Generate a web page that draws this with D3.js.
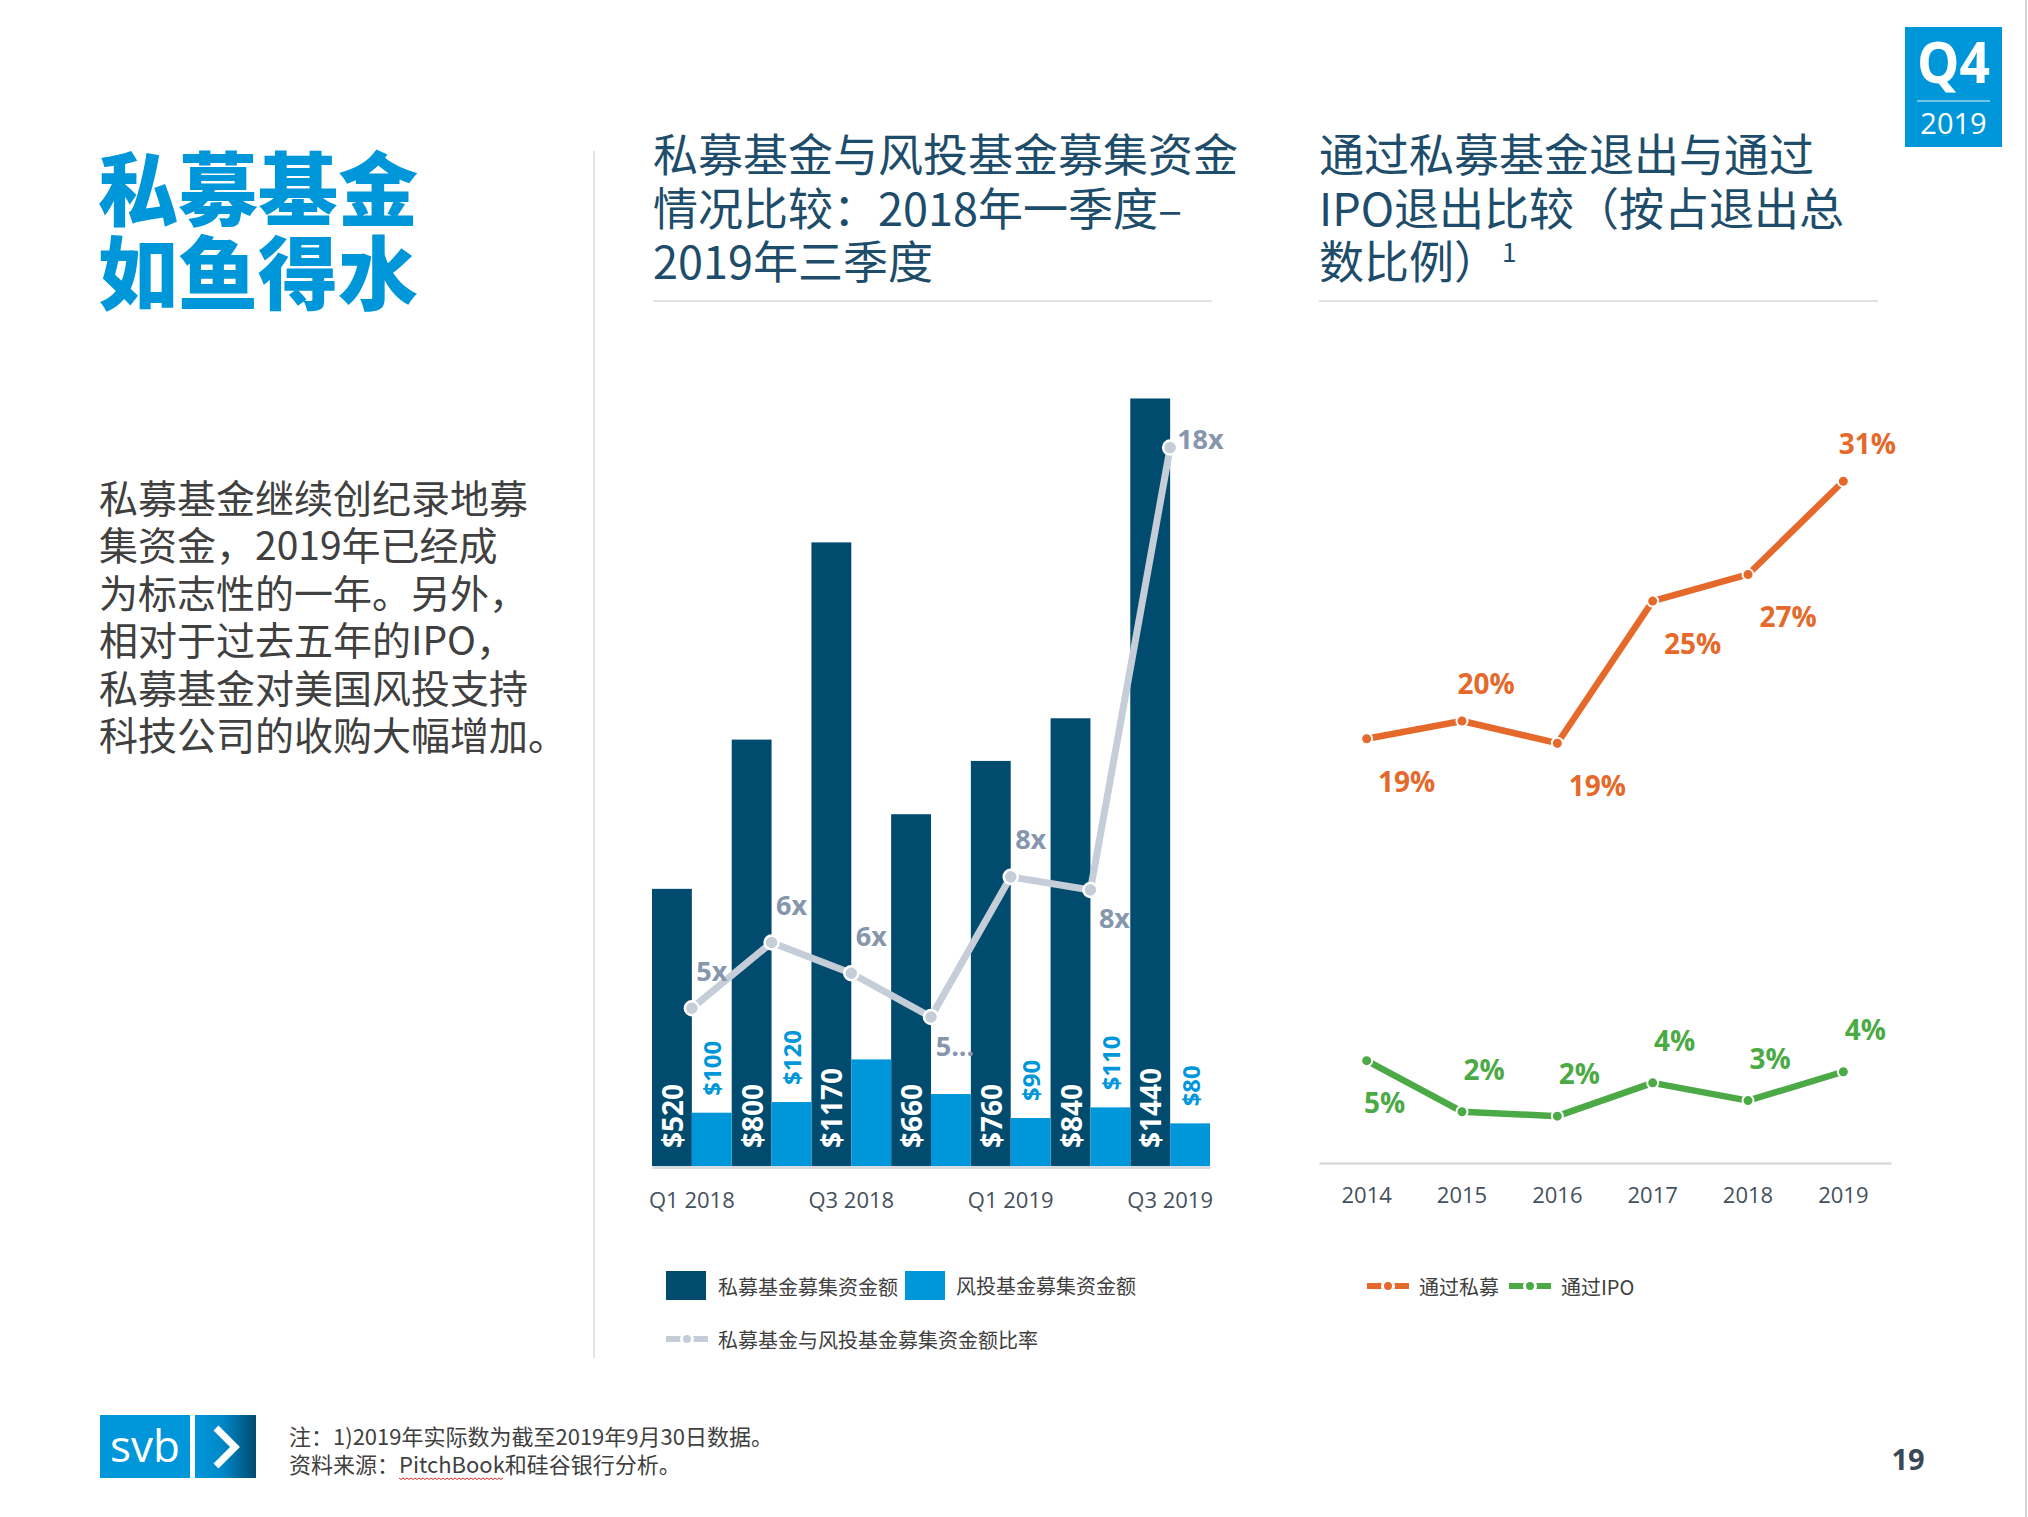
<!DOCTYPE html>
<html>
<head>
<meta charset="utf-8">
<script src="https://cdn.jsdelivr.net/npm/d3@7"></script>
<style>
  body { margin: 0; background: #fff; }
  svg { display: block; }
  text { font-family: "Noto Sans CJK SC", "Open Sans", sans-serif; }
  .num { font-family: "Open Sans", "Noto Sans CJK SC", sans-serif; }
</style>
</head>
<body>
<svg width="2028" height="1517"></svg>
<script>
// bar chart data (quarters)
const quarters = ["Q1 2018", "Q2 2018", "Q3 2018", "Q4 2018", "Q1 2019", "Q2 2019", "Q3 2019"];
const quarterTicks = ["Q1 2018", "Q3 2018", "Q1 2019", "Q3 2019"];
const peFunds = [520, 800, 1170, 660, 760, 840, 1440];
const vcFunds = [100, 120, 200, 135, 90, 110, 80];
const vcLabels = ["$100", "$120", null, null, "$90", "$110", "$80"];
const ratio = [5.2, 6.7, 6.0, 5.0, 8.2, 7.9, 18];
const ratioLabels = ["5x", "6x", "6x", "5...", "8x", "8x", "18x"];
const ratioPlace = ["above", "above", "above", "below", "above", "below", "right"];

// line chart data (years)
const years = ["2014", "2015", "2016", "2017", "2018", "2019"];
const peExit = [19.2, 20.0, 19.0, 25.4, 26.6, 30.8];
const ipoExit = [4.7, 2.4, 2.2, 3.7, 2.9, 4.2];
const peExitPlace = ["below", "above", "below", "below", "below", "above"];
const ipoExitPlace = ["below", "above", "above", "above", "above", "above"];

const bodyLines = ["私募基金继续创纪录地募", "集资金，2019年已经成", "为标志性的一年。另外，",
                   "相对于过去五年的IPO，", "私募基金对美国风投支持", "科技公司的收购大幅增加。"];

const peColor = "#004b6e", vcColor = "#0097da", ratioColor = "#c5cdd8", ratioText = "#8596ad";
const orange = "#e5692a", green = "#4caa46", titleColor = "#1e4d6b", gray = "#404040";

let svg = d3.select("svg");

// ---- left side text ----
svg.append("text").attr("x", 98).attr("y", 219)
    .attr("fill", vcColor).style("font-size", "80px").style("font-weight", 900)
    .text("私募基金");
svg.append("text").attr("x", 98).attr("y", 303)
    .attr("fill", vcColor).style("font-size", "80px").style("font-weight", 900)
    .text("如鱼得水");

svg.append("g").selectAll("text").data(bodyLines).enter().append("text")
    .attr("x", 99)
    .attr("y", (d, i) => 513 + i * 47.4)
    .attr("fill", gray)
    .style("font-size", "39px")
    .text(d => d);

// separators
svg.append("line").attr("x1", 594).attr("x2", 594).attr("y1", 151).attr("y2", 1358)
    .attr("stroke", "#d9d9d9").attr("stroke-width", 1.5);
svg.append("line").attr("x1", 2026).attr("x2", 2026).attr("y1", 0).attr("y2", 1517)
    .attr("stroke", "#d6d6d6").attr("stroke-width", 2);

// ---- chart titles ----
function title(x, lines) {
    lines.forEach((t, i) => {
        svg.append("text").attr("x", x).attr("y", 172 + i * 53.5)
            .attr("fill", titleColor).style("font-size", "45px").text(t);
    });
}
title(653, ["私募基金与风投基金募集资金", "情况比较：2018年一季度–", "2019年三季度"]);
title(1319, ["通过私募基金退出与通过", "IPO退出比较（按占退出总", "数比例）"]);
svg.append("text").attr("x", 1502).attr("y", 262).attr("fill", titleColor)
    .style("font-size", "26px").text("1");
svg.append("line").attr("x1", 653).attr("x2", 1212).attr("y1", 301).attr("y2", 301)
    .attr("stroke", "#d9d9d9").attr("stroke-width", 1.5);
svg.append("line").attr("x1", 1319).attr("x2", 1878).attr("y1", 301).attr("y2", 301)
    .attr("stroke", "#d9d9d9").attr("stroke-width", 1.5);

// ---- bar chart ----
let xBand = d3.scaleBand().domain(quarters).range([652, 1210]).padding(0);
let xSub = d3.scaleBand().domain(["pe", "vc"]).range([0, xBand.bandwidth()]).padding(0);
let yBar = d3.scaleLinear().domain([0, 1500]).range([1166, 366.5]);
let yRatio = d3.scaleLinear().domain([0, 20]).range([1236, 360]);
const cx = q => xBand(q) + xBand.bandwidth() / 2;

let bars = svg.append("g");
bars.selectAll(".pe").data(quarters).enter().append("rect")
    .attr("x", q => xBand(q) + xSub("pe"))
    .attr("width", xSub.bandwidth())
    .attr("y", (q, i) => yBar(peFunds[i]))
    .attr("height", (q, i) => yBar(0) - yBar(peFunds[i]))
    .attr("fill", peColor);
bars.selectAll(".vc").data(quarters).enter().append("rect")
    .attr("x", q => xBand(q) + xSub("vc"))
    .attr("width", xSub.bandwidth())
    .attr("y", (q, i) => yBar(vcFunds[i]))
    .attr("height", (q, i) => yBar(0) - yBar(vcFunds[i]))
    .attr("fill", vcColor);

// x axis
let xAxis = d3.axisBottom(xBand).tickValues(quarterTicks).tickSize(0).tickSizeOuter(0).tickPadding(25);
let gx = svg.append("g").attr("transform", "translate(0,1167)").call(xAxis);
gx.select(".domain").attr("stroke", "#d3dbe3").attr("stroke-width", 3);
gx.selectAll("text").attr("class", "num").attr("fill", "#44505c").style("font-size", "22px");

// bar labels
bars.selectAll(".pel").data(quarters).enter().append("text")
    .attr("class", "num")
    .attr("transform", q => "translate(" + (xBand(q) + xSub("pe") + xSub.bandwidth() / 2) + "," + (yBar(0) - 18) + ") rotate(-90)")
    .attr("dominant-baseline", "central")
    .attr("fill", "#fff").style("font-size", "28px").style("font-weight", 700)
    .text((q, i) => "$" + peFunds[i]);
bars.selectAll(".vcl").data(quarters.filter((q, i) => vcLabels[i])).enter().append("text")
    .attr("class", "num")
    .attr("transform", q => {
        let i = quarters.indexOf(q);
        return "translate(" + (xBand(q) + xSub("vc") + xSub.bandwidth() / 2) + "," + (yBar(vcFunds[i]) - 17) + ") rotate(-90)";
    })
    .attr("dominant-baseline", "central")
    .attr("fill", vcColor).style("font-size", "24px").style("font-weight", 700)
    .text(q => vcLabels[quarters.indexOf(q)]);

// ratio line
let ratioLine = d3.line().x((d, i) => cx(quarters[i])).y(d => yRatio(d));
svg.append("path").datum(ratio).attr("d", ratioLine)
    .attr("fill", "none").attr("stroke", ratioColor).attr("stroke-width", 7)
    .attr("stroke-linejoin", "round");
svg.append("g").selectAll("circle").data(ratio).enter().append("circle")
    .attr("cx", (d, i) => cx(quarters[i])).attr("cy", d => yRatio(d)).attr("r", 7)
    .attr("fill", ratioColor).attr("stroke", "#fff").attr("stroke-width", 2.5);
const ratioOff = { above: [20, -38], below: [24, 28], right: [7, -9] };
svg.append("g").selectAll("text").data(ratio).enter().append("text")
    .attr("class", "num")
    .attr("x", (d, i) => cx(quarters[i]) + ratioOff[ratioPlace[i]][0])
    .attr("y", (d, i) => yRatio(d) + ratioOff[ratioPlace[i]][1])
    .attr("text-anchor", (d, i) => ratioPlace[i] == "right" ? "start" : "middle")
    .attr("dominant-baseline", "central")
    .attr("fill", ratioText).style("font-size", "27px").style("font-weight", 700)
    .text((d, i) => ratioLabels[i]);

// bar legend
svg.append("rect").attr("x", 666).attr("y", 1271).attr("width", 40).attr("height", 29).attr("fill", peColor);
svg.append("text").attr("x", 718).attr("y", 1286).attr("dominant-baseline", "central")
    .attr("fill", gray).style("font-size", "20px").text("私募基金募集资金额");
svg.append("rect").attr("x", 905).attr("y", 1271).attr("width", 40).attr("height", 29).attr("fill", vcColor);
svg.append("text").attr("x", 956).attr("y", 1285).attr("dominant-baseline", "central")
    .attr("fill", gray).style("font-size", "20px").text("风投基金募集资金额");

function lineKey(x, y, color, label) {
    svg.append("line").attr("x1", x).attr("x2", x + 42).attr("y1", y).attr("y2", y)
        .attr("stroke", color).attr("stroke-width", 6);
    svg.append("circle").attr("cx", x + 21).attr("cy", y).attr("r", 5.5)
        .attr("fill", color).attr("stroke", "#fff").attr("stroke-width", 3);
    svg.append("text").attr("x", x + 52).attr("y", y).attr("dominant-baseline", "central")
        .attr("fill", gray).style("font-size", "20px").text(label);
}
lineKey(666, 1339, ratioColor, "私募基金与风投基金募集资金额比率");

// ---- line chart ----
let xYear = d3.scaleBand().domain(years).range([1319, 1891]);
let yPct = d3.scaleLinear().domain([0, 35]).range([1165, 388]);
const yx = y => xYear(y) + xYear.bandwidth() / 2;

let gx2 = svg.append("g").attr("transform", "translate(0,1163)")
    .call(d3.axisBottom(xYear).tickSize(0).tickSizeOuter(0).tickPadding(24));
gx2.select(".domain").attr("stroke", "#dadada").attr("stroke-width", 2.5);
gx2.selectAll("text").attr("class", "num").attr("fill", "#44505c").style("font-size", "22px");

function series(values, color, place, off) {
    let line = d3.line().x((d, i) => yx(years[i])).y(d => yPct(d));
    svg.append("path").datum(values).attr("d", line)
        .attr("fill", "none").attr("stroke", color).attr("stroke-width", 6.5)
        .attr("stroke-linejoin", "round");
    svg.append("g").selectAll("circle").data(values).enter().append("circle")
        .attr("cx", (d, i) => yx(years[i])).attr("cy", d => yPct(d)).attr("r", 5.5)
        .attr("fill", color).attr("stroke", "#fff").attr("stroke-width", 2);
    svg.append("g").selectAll("text").data(values).enter().append("text")
        .attr("class", "num")
        .attr("x", (d, i) => yx(years[i]) + off[place[i]][0])
        .attr("y", (d, i) => yPct(d) + off[place[i]][1])
        .attr("text-anchor", "middle").attr("dominant-baseline", "central")
        .attr("fill", color).style("font-size", "28px").style("font-weight", 700)
        .text(d => Math.round(d) + "%");
}
series(peExit, orange, peExitPlace, { above: [24, -38], below: [40, 42] });
series(ipoExit, green, ipoExitPlace, { above: [22, -43], below: [18, 41] });

lineKey(1367, 1286, orange, "通过私募");
lineKey(1509, 1286, green, "通过IPO");

// ---- Q4 badge ----
svg.append("rect").attr("x", 1905).attr("y", 27).attr("width", 97).attr("height", 120).attr("fill", vcColor);
svg.append("text").attr("class", "num").attr("x", 1917).attr("y", 83)
    .attr("textLength", 73).attr("lengthAdjust", "spacingAndGlyphs")
    .attr("fill", "#fff").style("font-size", "58px").style("font-weight", 700).text("Q4");
svg.append("line").attr("x1", 1917).attr("x2", 1990).attr("y1", 101).attr("y2", 101)
    .attr("stroke", "#fff").attr("stroke-opacity", 0.6).attr("stroke-width", 1.5);
svg.append("text").attr("class", "num").attr("x", 1953.5).attr("y", 134).attr("text-anchor", "middle")
    .attr("fill", "#fff").style("font-size", "29px").text("2019");

// ---- footer ----
let grad = svg.append("defs").append("linearGradient").attr("id", "chev");
grad.append("stop").attr("offset", "0%").attr("stop-color", vcColor);
grad.append("stop").attr("offset", "45%").attr("stop-color", "#0088c8");
grad.append("stop").attr("offset", "100%").attr("stop-color", "#004a6e");
svg.append("rect").attr("x", 100).attr("y", 1415).attr("width", 90).attr("height", 63).attr("fill", vcColor);
svg.append("rect").attr("x", 195).attr("y", 1415).attr("width", 61).attr("height", 63).attr("fill", "url(#chev)");
svg.append("text").attr("class", "num").attr("x", 145).attr("y", 1462).attr("text-anchor", "middle")
    .attr("fill", "#fff").style("font-size", "44px").text("svb");
svg.append("path").attr("d", "M216,1428 L235,1447 L216,1466")
    .attr("fill", "none").attr("stroke", "#fff").attr("stroke-width", 7);

svg.append("text").attr("x", 289).attr("y", 1445).attr("fill", gray).style("font-size", "22px")
    .text("注：1)2019年实际数为截至2019年9月30日数据。");
let src = svg.append("text").attr("x", 289).attr("y", 1473).attr("fill", gray).style("font-size", "22px")
    .text("资料来源：PitchBook和硅谷银行分析。");
let n = src.node();
let p0 = n.getStartPositionOfChar(5).x, p1 = n.getEndPositionOfChar(13).x;
let wave = "M" + p0 + ",1478";
for (let x = p0 + 2; x <= p1; x += 2) wave += " L" + x + "," + (1478 + ((Math.round((x - p0) / 2) % 2) ? 1.5 : 0));
svg.append("path").attr("d", wave).attr("fill", "none").attr("stroke", "#d9302c").attr("stroke-width", 1);

svg.append("text").attr("class", "num").attr("x", 1908).attr("y", 1470).attr("text-anchor", "middle")
    .attr("fill", "#3b4754").style("font-size", "29px").style("font-weight", 700).text("19");
</script>
</body>
</html>
